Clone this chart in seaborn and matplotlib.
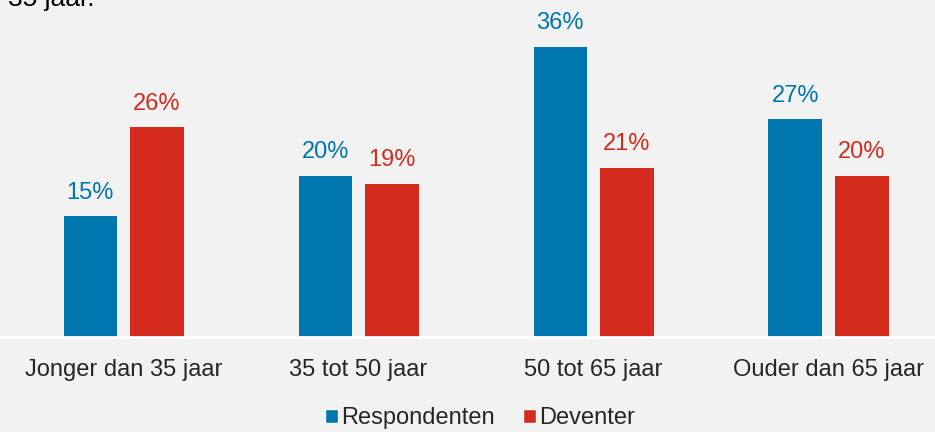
import seaborn as sns
import matplotlib.pyplot as plt
import pandas as pd
from matplotlib.patches import Patch

sns.set_style("white")
plt.rcParams['font.family'] = ['Liberation Sans', 'DejaVu Sans']

# Data
categories = ["Jonger dan 35 jaar", "35 tot 50 jaar", "50 tot 65 jaar", "Ouder dan 65 jaar"]
respondenten = [15, 20, 36, 27]
deventer = [26, 19, 21, 20]
series = ["Respondenten", "Deventer"]
colors = ["#0076ae", "#d52b1e"]

df = pd.DataFrame({
    "Leeftijd": categories * 2,
    "Aandeel": respondenten + deventer,
    "Groep": [series[0]] * 4 + [series[1]] * 4,
})

bg = "#f2f2f2"
fig = plt.figure(figsize=(9.35, 4.32), dpi=100, facecolor=bg)
ax = fig.add_axes([0, 95 / 432, 1, 337 / 432])
ax.set_facecolor(bg)

sns.barplot(data=df, x="Leeftijd", y="Aandeel", hue="Groep", palette=colors,
            width=0.568, gap=0.2, saturation=1, linewidth=0, ax=ax, legend=False)

# value labels in bar colour
for cont, col in zip(ax.containers, colors):
    for bar in cont:
        h = bar.get_height()
        ax.annotate(f"{h:.0f}%", (bar.get_x() + bar.get_width() / 2, h),
                    xytext=(0, 9), textcoords="offset points",
                    ha="center", va="bottom", color=col, fontsize=17)

ax.set_xlim(-0.526, 3.453)
ax.set_ylim(0, 41.8)
ax.set_xlabel("")
ax.set_ylabel("")
ax.set_yticks([])
ax.tick_params(axis="x", length=0, labelsize=17, pad=16)
for s in ["top", "right", "left"]:
    ax.spines[s].set_visible(False)
ax.spines["bottom"].set_color("white")
ax.spines["bottom"].set_linewidth(2)

# legend
handles = [Patch(facecolor=c, label=l) for c, l in zip(colors, series)]
fig.legend(handles=handles, loc="center", bbox_to_anchor=(480 / 935, 1 - 418 / 432),
           ncol=2, frameon=False, fontsize=17, handlelength=0.55, handleheight=0.55,
           handletextpad=0.15, columnspacing=1.2)

# tail of preceding text line, clipped at the top
fig.text(8 / 935, 1 - 6 / 432, "35 jaar.", fontsize=19, va="baseline", ha="left", color="black")

plt.savefig("out.png", dpi=100, facecolor=bg)
plt.close()
